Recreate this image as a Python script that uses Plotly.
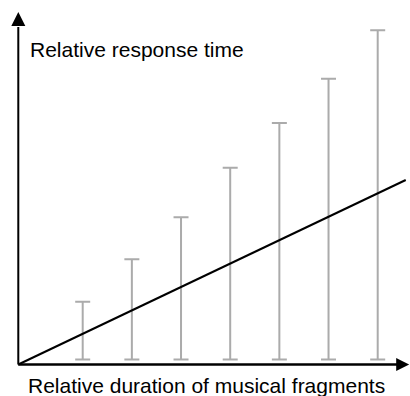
import plotly.graph_objects as go

# ---- data ----
durations = [1, 2, 3, 4, 5, 6, 7]                       # relative duration (categories)
rt_low = [0.5, 0.5, 0.5, 0.5, 0.5, 0.5, 0.5]            # lower end of each range
rt_high = [6.28, 10.52, 14.72, 19.68, 24.15, 28.58, 33.42]  # upper end of each range
trend_x = [-0.31, 7.57]                                 # trend line end points
trend_y = [0.0, 18.45]
axis_origin = [-0.31, 0.0]
x_axis_end = 7.64
y_axis_end = 35.25

W, H = 410, 396
x_range = [-0.682, 7.657]
y_range = [-3.15, 36.45]

font_family = "Arial, Liberation Sans, sans-serif"
grey = "#ababab"

fig = go.Figure()

# range bars
fig.add_trace(go.Scatter(
    x=durations, y=rt_low, mode="markers",
    marker=dict(size=1, opacity=0),
    error_y=dict(type="data", symmetric=False,
                 array=[h - l for h, l in zip(rt_high, rt_low)],
                 arrayminus=[0] * len(rt_low),
                 color=grey, thickness=2, width=7.5),
    hoverinfo="skip", showlegend=False,
))

# trend line
fig.add_trace(go.Scatter(
    x=trend_x, y=trend_y, mode="lines",
    line=dict(color="black", width=2),
    hoverinfo="skip", showlegend=False, cliponaxis=False,
))

# axes lines
fig.add_trace(go.Scatter(
    x=[axis_origin[0], axis_origin[0]], y=[axis_origin[1], y_axis_end - 1.5],
    mode="lines", line=dict(color="black", width=2),
    hoverinfo="skip", showlegend=False, cliponaxis=False,
))
fig.add_trace(go.Scatter(
    x=[axis_origin[0], x_axis_end - 0.2], y=[axis_origin[1], axis_origin[1]],
    mode="lines", line=dict(color="black", width=2.5),
    hoverinfo="skip", showlegend=False, cliponaxis=False,
))
# arrow heads
fig.add_trace(go.Scatter(
    x=[axis_origin[0]], y=[y_axis_end], mode="markers",
    marker=dict(symbol="arrow-up", size=14, color="black", line=dict(width=0)),
    hoverinfo="skip", showlegend=False, cliponaxis=False,
))
fig.add_trace(go.Scatter(
    x=[x_axis_end], y=[axis_origin[1]], mode="markers",
    marker=dict(symbol="arrow-right", size=13, color="black", line=dict(width=0)),
    hoverinfo="skip", showlegend=False, cliponaxis=False,
))

fig.add_annotation(text="Relative response time", xref="paper", yref="paper",
                   x=28 / W, y=1 - 49.3 / H, xanchor="left", yanchor="middle",
                   showarrow=False, font=dict(family=font_family, size=21, color="black"))
fig.add_annotation(text="Relative duration of musical fragments", xref="paper", yref="paper",
                   x=26 / W, y=1 - 385.7 / H, xanchor="left", yanchor="middle",
                   showarrow=False, font=dict(family=font_family, size=21, color="black"))

fig.update_layout(
    width=W, height=H,
    margin=dict(l=0, r=0, t=0, b=0),
    paper_bgcolor="white", plot_bgcolor="white",
    xaxis=dict(range=x_range, visible=False, fixedrange=True),
    yaxis=dict(range=y_range, visible=False, fixedrange=True),
    showlegend=False,
)

fig.write_html("out.html", config={"displayModeBar": False},
               post_script="document.body.style.margin='0';document.body.style.overflow='hidden';")
